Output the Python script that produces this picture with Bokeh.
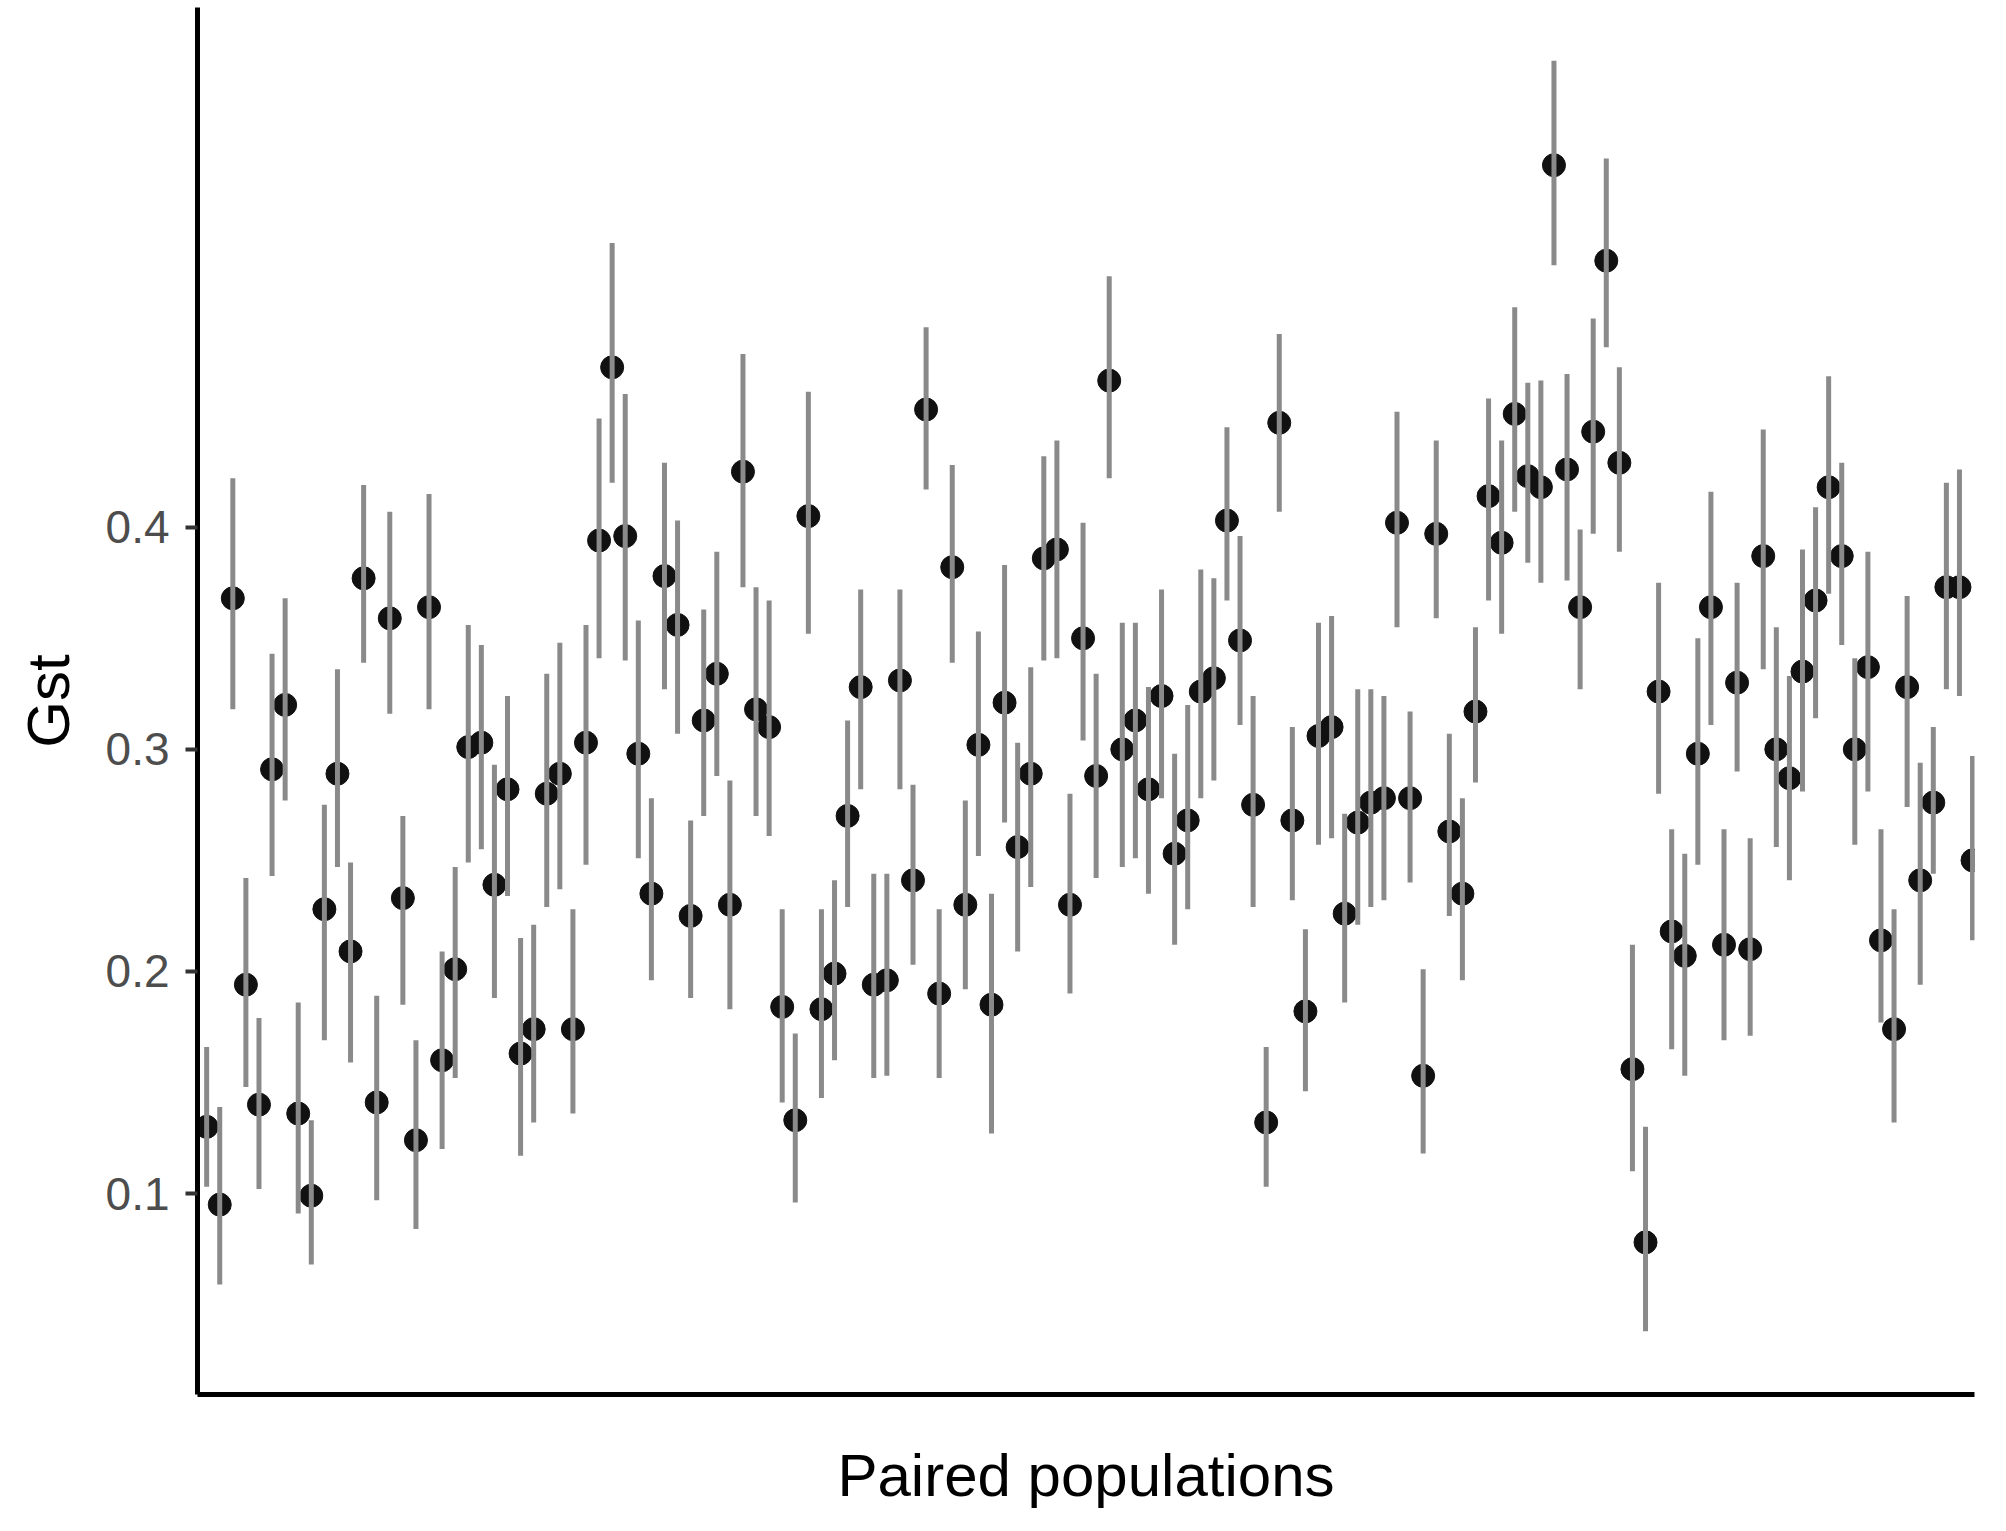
from bokeh.plotting import figure
from bokeh.models import FixedTicker, Range1d, ColumnDataSource
from bokeh.embed import file_html
from bokeh.resources import INLINE

gst = [0.130,0.095,0.368,0.194,0.140,0.291,0.320,0.136,0.099,0.228,
       0.289,0.209,0.377,0.141,0.359,0.233,0.124,0.364,0.160,0.201,
       0.301,0.303,0.239,0.282,0.163,0.174,0.280,0.289,0.174,0.303,
       0.394,0.472,0.396,0.298,0.235,0.378,0.356,0.225,0.313,0.334,
       0.230,0.425,0.318,0.310,0.184,0.133,0.405,0.183,0.199,0.270,
       0.328,0.194,0.196,0.331,0.241,0.453,0.190,0.382,0.230,0.302,
       0.185,0.321,0.256,0.289,0.386,0.390,0.230,0.350,0.288,0.466,
       0.300,0.313,0.282,0.324,0.253,0.268,0.326,0.332,0.403,0.349,
       0.275,0.132,0.447,0.268,0.182,0.306,0.310,0.226,0.267,0.276,
       0.278,0.402,0.278,0.153,0.397,0.263,0.235,0.317,0.414,0.393,
       0.451,0.423,0.418,0.563,0.426,0.364,0.443,0.520,0.429,0.156,
       0.078,0.326,0.218,0.207,0.298,0.364,0.212,0.330,0.210,0.387,
       0.300,0.287,0.335,0.367,0.418,0.387,0.300,0.337,0.214,0.174,
       0.328,0.241,0.276,0.373,0.373,0.250]

upper = [0.166,0.139,0.422,0.242,0.179,0.343,0.368,0.186,0.133,0.275,
         0.336,0.249,0.419,0.189,0.407,0.270,0.169,0.415,0.209,0.247,
         0.356,0.347,0.293,0.324,0.215,0.221,0.334,0.348,0.228,0.356,
         0.449,0.528,0.460,0.358,0.278,0.429,0.403,0.268,0.363,0.389,
         0.286,0.478,0.373,0.367,0.228,0.172,0.461,0.228,0.241,0.313,
         0.372,0.244,0.244,0.372,0.284,0.490,0.228,0.428,0.277,0.353,
         0.235,0.383,0.303,0.337,0.432,0.439,0.280,0.402,0.334,0.513,
         0.357,0.357,0.328,0.372,0.298,0.320,0.381,0.377,0.445,0.396,
         0.324,0.166,0.487,0.310,0.219,0.357,0.360,0.271,0.327,0.327,
         0.324,0.452,0.317,0.201,0.439,0.307,0.278,0.355,0.458,0.439,
         0.499,0.465,0.466,0.610,0.469,0.399,0.494,0.566,0.472,0.212,
         0.130,0.375,0.264,0.253,0.350,0.416,0.264,0.375,0.260,0.444,
         0.355,0.333,0.390,0.409,0.468,0.429,0.341,0.389,0.264,0.228,
         0.369,0.294,0.310,0.420,0.426,0.297]

lower = [0.103,0.059,0.318,0.148,0.102,0.243,0.277,0.091,0.068,0.169,
         0.247,0.159,0.339,0.097,0.316,0.185,0.084,0.318,0.120,0.152,
         0.249,0.255,0.188,0.234,0.117,0.132,0.229,0.237,0.136,0.248,
         0.341,0.420,0.340,0.251,0.196,0.327,0.307,0.188,0.270,0.288,
         0.183,0.373,0.270,0.261,0.141,0.096,0.352,0.143,0.160,0.229,
         0.282,0.152,0.153,0.282,0.203,0.417,0.152,0.339,0.192,0.252,
         0.127,0.267,0.209,0.238,0.340,0.341,0.190,0.304,0.242,0.422,
         0.247,0.251,0.235,0.278,0.212,0.228,0.278,0.286,0.367,0.311,
         0.229,0.103,0.407,0.232,0.146,0.257,0.260,0.186,0.221,0.229,
         0.232,0.355,0.240,0.118,0.359,0.225,0.196,0.285,0.367,0.352,
         0.407,0.384,0.375,0.518,0.376,0.327,0.397,0.481,0.389,0.110,
         0.038,0.280,0.165,0.153,0.248,0.311,0.169,0.290,0.171,0.336,
         0.256,0.241,0.281,0.314,0.370,0.347,0.257,0.281,0.177,0.132,
         0.274,0.194,0.244,0.327,0.324,0.214]

pair_index = list(range(1, len(gst) + 1))
y_ticks = [0.1, 0.2, 0.3, 0.4]

src = ColumnDataSource(dict(x=pair_index, gst=gst, lo=lower, hi=upper))

FONT = "Liberation Sans"

p = figure(width=1997, height=1522, output_backend="svg", toolbar_location=None,
           x_range=Range1d(0.3, 136.15), y_range=Range1d(0.0095, 0.634),
           min_border_left=197, min_border_right=23, min_border_top=7,
           min_border_bottom=128)
p.outline_line_color = None
p.grid.visible = False
p.background_fill_color = "white"
p.border_fill_color = "white"

p.scatter("x", "gst", source=src, size=23, fill_color="#111111",
          line_color="#111111", line_width=1)
p.segment(x0="x", y0="lo", x1="x", y1="hi", source=src,
          line_color="#8a8a8a", line_width=5)

# y axis
ya = p.yaxis[0]
ya.ticker = FixedTicker(ticks=y_ticks)
ya.axis_label = "Gst"
ya.axis_label_text_font = FONT
ya.axis_label_text_font_size = "60px"
ya.axis_label_text_font_style = "normal"
ya.axis_label_text_color = "black"
ya.axis_label_standoff = 21
ya.major_label_text_font = FONT
ya.major_label_text_font_size = "46px"
ya.major_label_text_color = "#4d4d4d"
ya.major_label_standoff = 16
ya.axis_line_width = 5
ya.axis_line_color = "black"
ya.major_tick_out = 12
ya.major_tick_in = 0
ya.major_tick_line_width = 4
ya.major_tick_line_color = "#333333"
ya.minor_tick_line_color = None

# x axis: plain line with title, no tick labels
xa = p.xaxis[0]
xa.ticker = FixedTicker(ticks=[])
xa.axis_label = "Paired populations"
xa.axis_label_text_font = FONT
xa.axis_label_text_font_size = "60px"
xa.axis_label_text_font_style = "normal"
xa.axis_label_text_color = "black"
xa.axis_label_standoff = 47
xa.major_label_standoff = 0
xa.axis_line_width = 5
xa.axis_line_color = "black"
xa.major_tick_out = 0
xa.major_tick_line_color = None
xa.minor_tick_line_color = None

open("out.html", "w").write(file_html(p, INLINE))
